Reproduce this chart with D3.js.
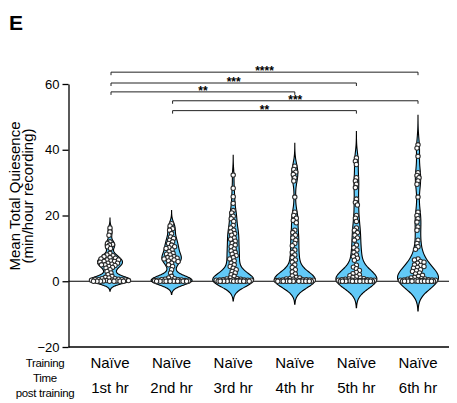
<!DOCTYPE html>
<html><head><meta charset="utf-8">
<script src="https://cdn.jsdelivr.net/npm/d3@7"></script>
<style>body{margin:0;background:#fff;} svg{display:block;font-family:"Liberation Sans",Arial,sans-serif;}</style>
</head><body><svg id="c" width="457" height="403"></svg>
<script>
const trainingLabels = ["Naïve","Naïve","Naïve","Naïve","Naïve","Naïve"];
const timeLabels = ["1st hr","2nd hr","3rd hr","4th hr","5th hr","6th hr"];
const yTicks = [-20, 0, 20, 40, 60];

const hr1 = [16.2,15.0,14.0,12.0,11.5,11.2,11.0,10.5,10.0,8.5,8.0,7.8,7.5,7.2,7.0,6.8,6.5,6.5,6.2,6.0,6.0,5.8,5.5,5.5,5.2,5.0,5.0,4.8,4.5,4.2,4.0,3.5,3.0,2.5,2.0,1.5,1.2,1.0,0.8,0.8,0.6,0.5,0.5,0.5,0.4,0.3,0.3,0.2,0.2,0.1,0.1,0,0,0,0,0,0,0];
const hr2 = [17.5,16.8,16.0,15.5,14.5,13.5,13.0,12.5,12.0,11.5,11.0,10.5,10.2,10.0,9.5,9.0,8.5,8.2,8.0,7.5,7.2,7.0,7.0,6.8,6.5,6.2,6.0,5.5,5.0,4.5,3.5,2.5,1.5,1.0,0.8,0.6,0.5,0.5,0.4,0.3,0.3,0.2,0.2,0.1,0.1,0,0,0,0,0,0,0,0,0,0,0];
const hr3 = [32.3,28.3,25.7,23.7,21.5,20.8,19.8,19.0,18.2,17.0,16.2,15.5,15.0,14.5,14.0,13.2,12.8,12.2,11.5,11.0,10.5,9.8,9.2,8.8,8.2,7.8,7.2,6.8,6.2,5.5,5.0,4.5,4.0,3.5,3.0,2.5,2.0,1.5,1.0,0.8,0.7,0.6,0.5,0.5,0.4,0.4,0.3,0.3,0.3,0.2,0.2,0.2,0.1,0.1,0.1,0,0,0,0,0,0,0,0,0,0,0];
const hr4 = [35.0,34.0,33.2,32.5,31.5,30.5,25.6,21.0,20.0,19.2,18.5,17.8,15.5,14.8,14.0,13.2,12.5,11.5,10.8,9.5,8.8,8.0,7.2,6.5,5.8,5.0,4.2,3.5,2.8,2.2,1.6,1.2,1.0,0.8,0.7,0.6,0.5,0.5,0.4,0.4,0.3,0.3,0.3,0.2,0.2,0.2,0.1,0.1,0.1,0,0,0,0,0,0,0,0,0,0,0,0,0];
const hr5 = [37.5,36.5,35.5,31.5,30.5,29.5,28.5,25.0,24.0,23.2,20.0,19.2,18.2,16.2,15.5,14.8,14.0,13.2,12.5,11.0,10.2,9.5,8.8,8.0,7.5,7.0,6.4,4.9,4.3,3.8,3.3,2.7,2.3,2.0,1.7,1.4,1.2,1.0,0.8,0.7,0.6,0.5,0.5,0.4,0.4,0.3,0.3,0.3,0.2,0.2,0.2,0.1,0.1,0.1,0,0,0,0,0,0,0,0,0,0,0,0];
const hr6 = [41.5,40.5,38.0,33.0,32.2,31.5,30.5,29.5,25.6,21.0,20.0,19.0,18.0,16.5,15.5,12.5,11.5,10.5,9.7,6.8,6.5,6.0,5.8,5.5,5.0,4.8,4.5,4.2,4.0,3.5,3.2,3.0,2.5,2.2,1.8,1.5,1.2,1.0,0.8,0.7,0.6,0.5,0.5,0.4,0.4,0.3,0.3,0.3,0.2,0.2,0.2,0.1,0.1,0.1,0,0,0,0,0,0,0,0,0,0,0];
const groups = [hr1, hr2, hr3, hr4, hr5, hr6];
const bandwidths = [1.0, 1.33, 2.0, 2.33, 2.67, 3.0];

const comparisonFrom = [0, 0, 0, 1, 1];
const comparisonTo   = [5, 4, 3, 5, 4];
const comparisonStars = ["****", "***", "**", "***", "**"];
const comparisonLevels = [63.6, 60.3, 57.6, 54.9, 51.9];

const svg = d3.select("#c");
const y = d3.scaleLinear().domain([-20, 60]).range([347, 84]);
const x = d3.scaleBand().domain(d3.range(6)).range([79.2, 448.8]).padding(0);
const cx = i => x(i) + x.bandwidth() / 2;
const axisX = 68.5;

svg.append("text").attr("x", 9).attr("y", 30).attr("font-size", 21).attr("font-weight", "bold").text("E");

const yAxis = svg.append("g").attr("transform", `translate(${axisX},0)`)
  .call(d3.axisLeft(y).tickValues(yTicks).tickSize(6).tickSizeOuter(0).tickPadding(3));
yAxis.selectAll("text").attr("font-size", 13).attr("font-family", "Liberation Sans, Arial, sans-serif").attr("fill", "#000");
yAxis.selectAll("line,path").attr("stroke", "#000").attr("stroke-width", 1.3);

svg.append("line").attr("x1", axisX).attr("x2", 449).attr("y1", y(-20)).attr("y2", y(-20))
  .attr("stroke", "#000").attr("stroke-width", 1.3);

const yt = svg.append("text").attr("transform", "translate(20,196) rotate(-90)")
  .attr("text-anchor", "middle").attr("font-size", 15);
yt.append("tspan").attr("x", 0).attr("y", 0).text("Mean Total Quiesence");
yt.append("tspan").attr("x", 0).attr("y", 13).text("(min/hour recording)");

const maxHalf = 20.5;
const halfWidthFns = [];
groups.forEach((vals, i) => {
  const bw = bandwidths[i];
  const kde = v => d3.sum(vals, p => Math.exp(-0.5 * ((v - p) / bw) ** 2));
  const lo = d3.min(vals) - 3 * bw, hi = d3.max(vals) + 3 * bw;
  const grid = d3.range(lo, hi + 1e-9, (hi - lo) / 200);
  const dens = grid.map(v => ({v, d: kde(v)}));
  const mx = d3.max(dens, d => d.d);
  halfWidthFns.push(v => maxHalf * kde(v) / mx);
  const area = d3.area().curve(d3.curveBasis)
    .y(d => y(d.v))
    .x0(d => cx(i) - maxHalf * d.d / mx)
    .x1(d => cx(i) + maxHalf * d.d / mx);
  svg.append("path").datum(dens).attr("d", area)
    .attr("fill", "#62C9F7").attr("stroke", "#000").attr("stroke-width", 1.1);
});

svg.append("line").attr("x1", axisX).attr("x2", 449).attr("y1", y(0)).attr("y2", y(0))
  .attr("stroke", "#000").attr("stroke-width", 1.2);

const r = 2.2, minD = 3.4;
groups.forEach((vals, i) => {
  const sorted = vals.slice().sort((a, b) => b - a);
  const placed = [];
  sorted.forEach(v => {
    const py = y(v);
    const cap = Math.max(1, halfWidthFns[i](v) - 1.5);
    let best = null, bestScore = -1, bestX = cx(i);
    for (let k = 0; k < 400; k++) {
      const off = (k % 2 === 0 ? 1 : -1) * Math.ceil(k / 2) * 0.5;
      if (Math.abs(off) > cap) break;
      const px = cx(i) + off;
      const md = placed.length ? d3.min(placed, p => Math.hypot(p.x - px, p.y - py)) : 99;
      if (md >= minD) { best = px; break; }
      if (md > bestScore) { bestScore = md; bestX = px; }
    }
    placed.push({x: best === null ? bestX : best, y: py});
  });
  svg.append("g").selectAll("circle").data(placed).join("circle")
    .attr("cx", d => d.x).attr("cy", d => d.y).attr("r", r)
    .attr("fill", "#fff").attr("stroke", "#2a2a2a").attr("stroke-width", 1.05);
});

comparisonFrom.forEach((a, k) => {
  const b = comparisonTo[k];
  const ly = y(comparisonLevels[k]);
  const x1 = cx(a) + 1, x2 = cx(b);
  svg.append("path").attr("d", `M${x1},${ly + 3}V${ly}H${x2}V${ly + 3}`)
    .attr("fill", "none").attr("stroke", "#222").attr("stroke-width", 1);
  svg.append("text").attr("x", (x1 + x2) / 2).attr("y", ly + 3.2)
    .attr("text-anchor", "middle").attr("font-size", 12).attr("font-weight", "bold").text(comparisonStars[k]);
});

trainingLabels.forEach((t, i) => {
  svg.append("text").attr("x", cx(i)).attr("y", 367.5).attr("text-anchor", "middle").attr("font-size", 15).text(t);
  svg.append("text").attr("x", cx(i)).attr("y", 392.5).attr("text-anchor", "middle").attr("font-size", 15).text(timeLabels[i]);
});
const rowLabels = [["Training", 367], ["Time", 382], ["post training", 397]];
rowLabels.forEach(([t, yy]) => {
  svg.append("text").attr("x", 45).attr("y", yy).attr("text-anchor", "middle").attr("font-size", 11.5)
    .attr("letter-spacing", -0.3).text(t);
});
</script></body></html>
